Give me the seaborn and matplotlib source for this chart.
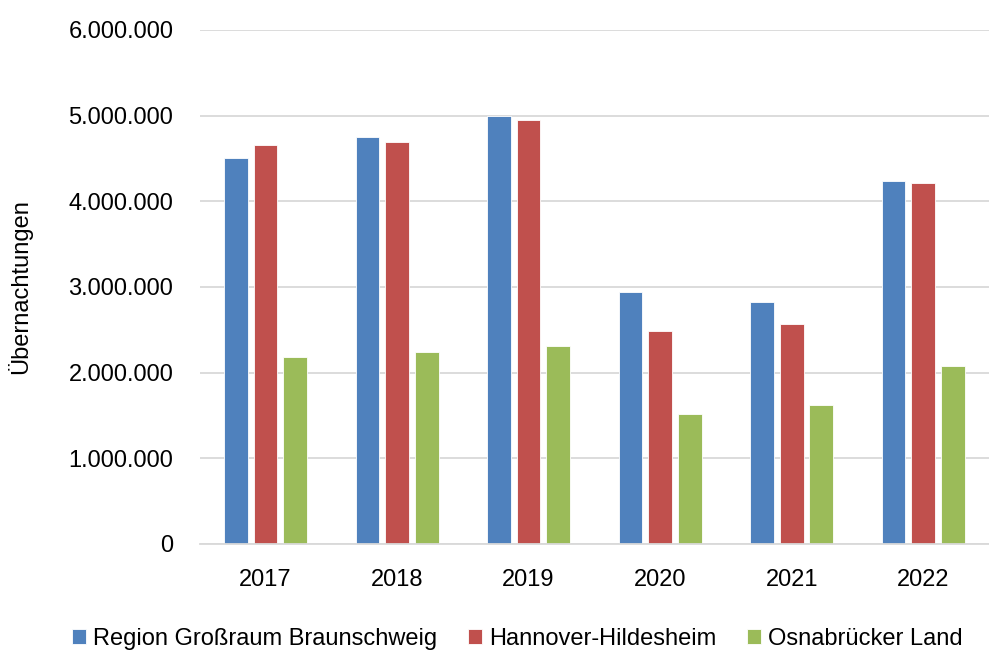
import matplotlib
matplotlib.use("Agg")
import matplotlib.pyplot as plt
import matplotlib.ticker as mticker
import seaborn as sns
import pandas as pd

years = ["2017", "2018", "2019", "2020", "2021", "2022"]
braunschweig = [4500000, 4750000, 5000000, 2940000, 2820000, 4240000]
hannover = [4660000, 4690000, 4950000, 2490000, 2570000, 4210000]
osnabrueck = [2180000, 2240000, 2310000, 1510000, 1620000, 2080000]
regions = ["Region Großraum Braunschweig", "Hannover-Hildesheim", "Osnabrücker Land"]
colors = ["#4F81BD", "#C0504D", "#9BBB59"]

df = pd.DataFrame({
    "Jahr": years * 3,
    "Region": [regions[0]] * 6 + [regions[1]] * 6 + [regions[2]] * 6,
    "Wert": braunschweig + hannover + osnabrueck,
})

sns.set_theme(style="white")
plt.rcParams["font.family"] = ["Liberation Sans", "DejaVu Sans"]

fig, ax = plt.subplots(figsize=(9.89, 6.52), dpi=100)
fig.subplots_adjust(left=0.202, right=1.0, top=0.954, bottom=0.166)

sns.barplot(data=df, x="Jahr", y="Wert", hue="Region", palette=colors,
            width=0.675, gap=0.2, saturation=1, edgecolor="white", linewidth=0.6,
            ax=ax, legend=True)

ax.set_ylim(0, 6000000)
ax.yaxis.set_major_locator(mticker.MultipleLocator(1000000))
ax.yaxis.set_major_formatter(mticker.FuncFormatter(lambda v, p: f"{int(v):,}".replace(",", ".")))
ax.yaxis.grid(True, color="#d9d9d9", linewidth=1.3)
ax.set_axisbelow(True)
for s in ["top", "right", "left"]:
    ax.spines[s].set_visible(False)
ax.spines["bottom"].set_color("#d9d9d9")
ax.spines["bottom"].set_linewidth(1.3)
ax.tick_params(axis="both", length=0, labelsize=17, colors="black")
ax.tick_params(axis="y", pad=19)
ax.tick_params(axis="x", pad=18)
ax.set_xlabel("")
ax.set_ylabel("Übernachtungen", fontsize=17, color="black")
ax.yaxis.set_label_coords(-0.213, 0.5)

handles, labels = ax.get_legend_handles_labels()
ax.get_legend().remove()
fig.legend(handles, labels, loc="lower center", bbox_to_anchor=(0.523, -0.03), ncol=3,
           frameon=False, fontsize=17, handlelength=0.6, handleheight=0.6,
           handletextpad=0.3, columnspacing=1.3, labelcolor="black")

fig.savefig("out.png", dpi=100)
